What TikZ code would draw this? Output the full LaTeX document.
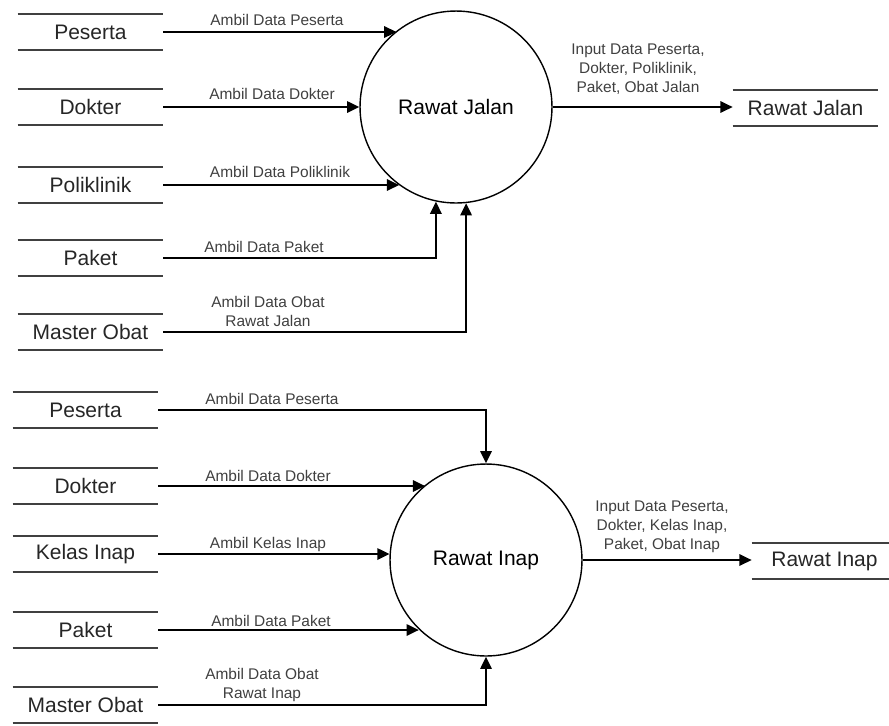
\documentclass[tikz,border=0pt]{standalone}
\usepackage{fontspec}
\setmainfont{Liberation Sans}
\usetikzlibrary{arrows.meta}
\begin{document}
\begin{tikzpicture}[x=0.02cm, y=-0.02cm, >={Triangle[length=7pt,width=6.5pt]},
		store/.style={minimum width=2.9cm, minimum height=0.72cm, inner sep=0pt, font=\fontsize{11.95}{14}\selectfont, text=black!85},
		storeline/.style={line width=1.1pt, black!75},
		proc/.style={circle, draw, line width=0.8pt, minimum size=3.84cm, inner sep=0pt, font=\fontsize{11.95}{14}\selectfont},
		flow/.style={line width=1.1pt, ->},
		lbl/.style={font=\fontsize{8.8}{10.8}\selectfont, text=black!75, align=center, inner sep=0pt}]
	\useasboundingbox (0,0) rectangle (889,725);
	% rawat jalan
	\node[proc] (rj) at (456,107) {Rawat Jalan};
	\node[store] (jpst) at (90.5,32) {Peserta};
	\node[store] (jdok) at (90.5,107) {Dokter};
	\node[store] (jpol) at (90.5,185) {Poliklinik};
	\node[store] (jpkt) at (90.5,258) {Paket};
	\node[store] (jobt) at (90.5,332) {Master Obat};
	\node[store] (rjs) at (805.5,108) {Rawat Jalan};
	\draw[flow] (jpst.east) -- (jpst.east -| rj.128.6);
	\draw[flow] (jdok.east) -- (jdok.east -| rj.west);
	\draw[flow] (jpol.east) -- (jpol.east -| rj.234.3);
	\draw[flow] (jpkt.east) -| (rj.258);
	\draw[flow] (jobt.east) -| (rj.276);
	\draw[flow] (rj.east) -- (rj.east -| rjs.west);
	\node[lbl] (ljpst) at (277,20) {Ambil Data Peserta};
	\node[lbl] (ljdok) at (272,94) {Ambil Data Dokter};
	\node[lbl] (ljpol) at (280,172) {Ambil Data Poliklinik};
	\node[lbl] (ljpkt) at (264,247) {Ambil Data Paket};
	\node[lbl] (ljobt) at (268,311) {Ambil Data Obat\\Rawat Jalan};
	\node[lbl] (ljout) at (638,69) {Input Data Peserta,\\Dokter, Poliklinik,\\Paket, Obat Jalan};
	% rawat inap
	\node[proc] (ri) at (486,560) {Rawat Inap};
	\node[store] (ipst) at (85.5,410) {Peserta};
	\node[store] (idok) at (85.5,486) {Dokter};
	\node[store] (ikls) at (85.5,554) {Kelas Inap};
	\node[store] (ipkt) at (85.5,630) {Paket};
	\node[store] (iobt) at (85.5,705) {Master Obat};
	\node[store] (ris) at (824.5,561) {Rawat Inap};
	\draw[flow] (ipst.east) -| (ri.north);
	\draw[flow] (idok.east) -- (idok.east -| ri.129.6);
	\draw[flow] (ikls.east) -- (ikls.east -| ri.176.4);
	\draw[flow] (ipkt.east) -- (ipkt.east -| ri.226.8);
	\draw[flow] (iobt.east) -| (ri.south);
	\draw[flow] (ri.east) -- (ri.east -| ris.west);
	\node[lbl] (lipst) at (272,399) {Ambil Data Peserta};
	\node[lbl] (lidok) at (268,476) {Ambil Data Dokter};
	\node[lbl] (likls) at (268,544) {Ambil Kelas Inap};
	\node[lbl] (lipkt) at (271,621) {Ambil Data Paket};
	\node[lbl] (liobt) at (262,685) {Ambil Data Obat\\Rawat Inap};
	\node[lbl] (liout) at (662,527) {Input Data Peserta,\\Dokter, Kelas Inap,\\Paket, Obat Inap};
	% garis data store
	\foreach \s in {jpst,jdok,jpol,jpkt,jobt,rjs,ipst,idok,ikls,ipkt,iobt,ris}
		\draw[storeline] (\s.north west) -- (\s.north east) (\s.south west) -- (\s.south east);
\end{tikzpicture}
\end{document}
